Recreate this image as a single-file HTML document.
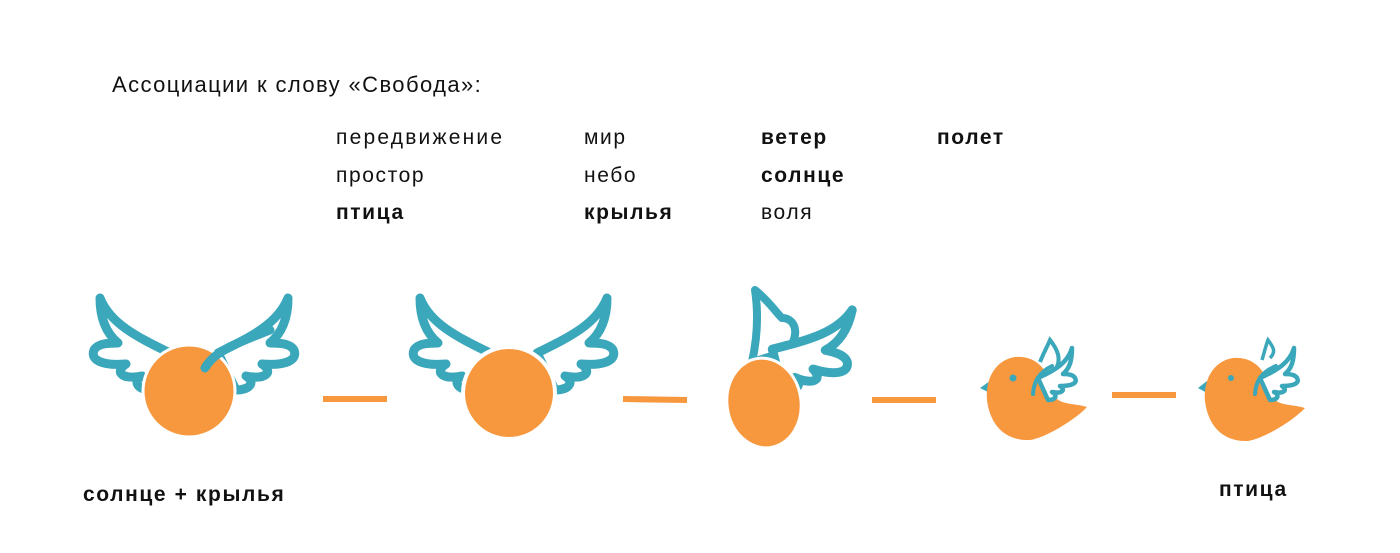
<!DOCTYPE html>
<html><head><meta charset="utf-8"><style>
body{margin:0;width:1400px;height:553px;background:#fff;overflow:hidden;position:relative;font-family:"Liberation Sans",sans-serif;color:#111}
.t{position:absolute;font-size:21px;white-space:nowrap;letter-spacing:1.6px}
b{font-weight:700}
svg{position:absolute;left:0;top:0}
</style></head><body>
<div class="t" style="left:112px;top:72px;font-size:22px;letter-spacing:1.4px">Ассоциации к слову «Свобода»:</div>
<div class="t" style="left:336px;top:126px;letter-spacing:2.2px">передвижение</div>
<div class="t" style="left:336px;top:164px">простор</div>
<div class="t" style="left:336px;top:201px"><b>птица</b></div>
<div class="t" style="left:584px;top:126px">мир</div>
<div class="t" style="left:584px;top:164px">небо</div>
<div class="t" style="left:584px;top:201px"><b>крылья</b></div>
<div class="t" style="left:761px;top:126px"><b>ветер</b></div>
<div class="t" style="left:761px;top:164px"><b>солнце</b></div>
<div class="t" style="left:761px;top:201px">воля</div>
<div class="t" style="left:937px;top:126px"><b>полет</b></div>
<div class="t" style="left:83px;top:483px"><b>солнце + крылья</b></div>
<div class="t" style="left:1219px;top:478px"><b>птица</b></div>
<svg width="1400" height="553">
<defs>
<path id="w" d="M10,0 C20,25 45,38 80,55 L62,92 C48,92 42,84 52,78 C32,82 24,74 36,66 C12,68 0,62 4,52 C8,45 20,45 28,45 C16,35 10,20 10,0 Z" fill="#fff" stroke="#3BA7BB" stroke-width="9" stroke-linejoin="round"/>
<path id="sw" d="M6,0 C10,14 22,22 40,30 L30,52 C22,52 20,47 26,44 C16,46 12,42 18,38 C6,38 0,35 3,30 C5,26 12,26 15,26 C8,20 6,12 6,0 Z" fill="#fff" stroke="#3BA7BB" stroke-width="4.5" stroke-linejoin="round"/>
<path id="bd" d="M30,2 C10,5 0,25 2,45 C5,70 20,86 45,85 C60,83 90,65 102,52 C90,48 72,50 70,40 C65,20 55,0 30,2 Z" fill="#F7983F"/>
</defs>
<g stroke="#F7983F" stroke-width="6">
<line x1="323" y1="399" x2="387" y2="399"/><line x1="623" y1="399" x2="687" y2="400"/>
<line x1="872" y1="400" x2="936" y2="400"/><line x1="1112" y1="395" x2="1176" y2="395"/>
</g>
<!-- fig1 -->
<use href="#w" transform="translate(90,298)"/>
<use href="#w" transform="translate(298,298) scale(-1,1)"/>
<circle cx="189" cy="391" r="46" fill="#F7983F" stroke="#fff" stroke-width="3"/>
<path d="M205,368 C215,350 240,342 270,330" fill="none" stroke="#3BA7BB" stroke-width="9" stroke-linecap="round"/>
<!-- fig2 -->
<use href="#w" transform="translate(410,298)"/>
<use href="#w" transform="translate(617,298) scale(-1,1)"/>
<circle cx="509" cy="393" r="46" fill="#F7983F" stroke="#fff" stroke-width="4"/>
<!-- fig3 -->
<path d="M752,362 C758,335 758,310 755,290 C770,302 778,315 782,318 C798,318 800,340 785,352 Z" fill="#fff" stroke="#3BA7BB" stroke-width="8" stroke-linejoin="round"/>
<use href="#w" transform="translate(862,312) scale(-1,1) rotate(-12)"/>
<ellipse cx="764" cy="403" rx="37" ry="45" fill="#F7983F" stroke="#fff" stroke-width="3" transform="rotate(-8 764 403)"/>
<!-- bird4 -->
<path d="M980,388 L990,381 L990,393 Z" fill="#3BA7BB"/>
<use href="#bd" transform="translate(985,355)"/>
<circle cx="1013" cy="378" r="3.5" fill="#3BA7BB"/>
<path d="M1040,362 C1045,350 1048,345 1050,340 C1058,350 1062,360 1055,370" fill="none" stroke="#3BA7BB" stroke-width="4"/>
<use href="#sw" transform="translate(1078,348) scale(-1,1)"/>
<path d="M1033,394 C1034,380 1040,372 1052,366" fill="none" stroke="#3BA7BB" stroke-width="4" stroke-linecap="round"/>
<!-- bird5 -->
<path d="M1198,388 L1207,381 L1207,393 Z" fill="#3BA7BB"/>
<use href="#bd" transform="translate(1203,356)"/>
<circle cx="1231" cy="378" r="3" fill="#3BA7BB"/>
<path d="M1262,360 C1265,350 1266,345 1268,340 C1274,348 1276,352 1270,358" fill="none" stroke="#3BA7BB" stroke-width="3.5"/>
<use href="#sw" transform="translate(1300,348) scale(-1,1)"/>
<path d="M1255,394 C1256,380 1262,372 1276,366" fill="none" stroke="#3BA7BB" stroke-width="4" stroke-linecap="round"/>
</svg>
</body></html>
